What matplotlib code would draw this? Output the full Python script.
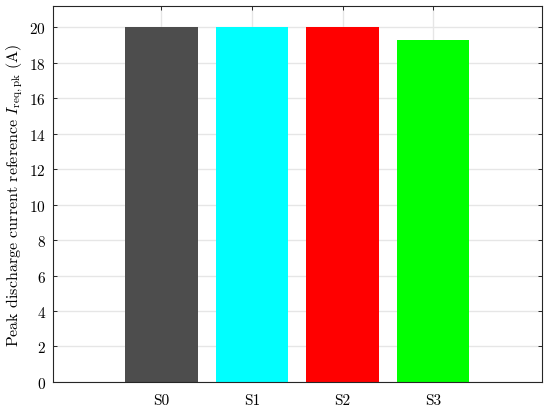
import numpy as np
import matplotlib.pyplot as plt

# bar data
labels = ['S0', 'S1', 'S2', 'S3']
values = [20.0, 20.0, 20.0, 19.3]
colors = ['#4d4d4d', '#00ffff', '#ff0000', '#00ff00']
yticks = list(range(0, 21, 2))

plt.rcParams['font.family'] = 'serif'
plt.rcParams['font.serif'] = ['cmr10']
plt.rcParams['mathtext.fontset'] = 'cm'
plt.rcParams['axes.formatter.use_mathtext'] = True

fig = plt.figure(figsize=(5.5, 4.1), dpi=100)
ax = fig.add_axes([0.096, 0.066, 0.889, 0.917])

x = np.arange(1, len(labels) + 1)
ax.bar(x, values, width=0.8, color=colors, zorder=2)

ax.set_xlim(-0.2, 5.2)
ax.set_ylim(0, 21.2)
ax.set_xticks(x)
ax.set_xticklabels(labels)
ax.set_yticks(yticks)
ax.set_ylabel(r'Peak discharge current reference $I_{\mathrm{req,pk}}$ (A)',
              fontsize=11.5, labelpad=3)

ax.grid(True, color='#e6e6e6', linewidth=1.0, zorder=0)
ax.set_axisbelow(True)
ax.tick_params(direction='in', top=True, right=True, labelsize=11,
               length=3, width=0.7, color='#262626')
ax.tick_params(axis='x', pad=8)
ax.tick_params(axis='y', pad=5)
for s in ax.spines.values():
    s.set_color('#262626')
    s.set_linewidth(0.8)

plt.savefig('out.png', dpi=100)
plt.close()
